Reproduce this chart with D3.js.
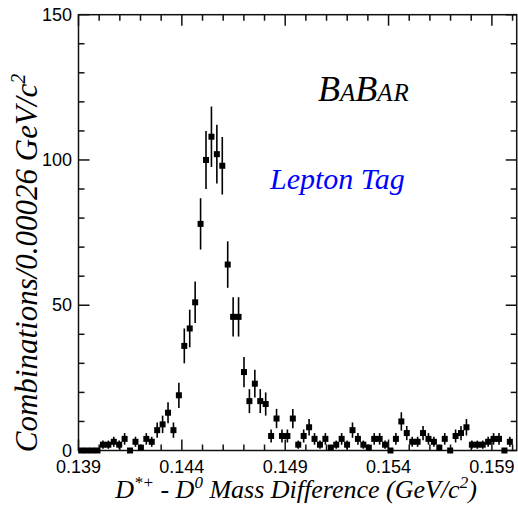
<!DOCTYPE html>
<html>
<head>
<meta charset="utf-8">
<script src="https://cdn.jsdelivr.net/npm/d3@7"></script>
<style>
  html, body { margin: 0; padding: 0; background: #fff; }
  svg { display: block; }
</style>
</head>
<body>
<div id="chart"></div>
<script>
// histogram: 80 bins from 0.139 to 0.160 GeV/c^2
const binStart = 0.139;
const binEnd = 0.160;
const counts = [
  0, 0, 0, 0, 2, 2, 3, 2, 4, 0,
  3, 1, 4, 3, 7, 9, 13, 7, 19, 36,
  42, 51, 78, 100, 108, 102, 98, 64, 46, 46,
  27, 17, 23, 17, 16, 5, 11, 5, 5, 11,
  2, 5, 8, 4, 2, 4, 1, 2, 4, 2,
  7, 4, 2, 1, 4, 4, 2, 0, 4, 10,
  6, 3, 3, 6, 4, 3, 1, 4, 0, 5,
  6, 8, 2, 2, 2, 3, 4, 4, 0, 3
];
const xTicks = [0.139, 0.144, 0.149, 0.154, 0.159];
const yTicks = [0, 50, 100, 150];

const W = 518, H = 510;
const mLeft = 78.5, mRight = 516.7, mTop = 14.7, mBottom = 450.5;

const svg = d3.select('#chart').append('svg')
  .attr('width', W).attr('height', H);

const x = d3.scaleLinear().domain([0.139, 0.1602]).range([mLeft, mRight]);
const y = d3.scaleLinear().domain([0, 150]).range([mBottom, mTop]);

const binW = (binEnd - binStart) / counts.length;
const bins = counts.map((c, i) => ({ x: binStart + binW * (i + 0.5), n: c }));

// frame ticks (minor + major) on all four sides
const minorX = d3.range(0.139, 0.1602, 0.001);
const minorY = d3.range(0, 151, 10);
const isMajorX = (v) => xTicks.some((t) => Math.abs(t - v) < 1e-6);
const isMajorY = (v) => v % 50 === 0;

const axisG = svg.append('g').attr('stroke', '#111').attr('stroke-width', 1.5);

axisG.append('rect')
  .attr('x', mLeft).attr('y', mTop)
  .attr('width', mRight - mLeft).attr('height', mBottom - mTop)
  .attr('fill', 'none');

minorX.forEach((v) => {
  const len = isMajorX(v) ? 11 : 6;
  axisG.append('line')
    .attr('x1', x(v)).attr('x2', x(v))
    .attr('y1', mBottom).attr('y2', mBottom - len);
  axisG.append('line')
    .attr('x1', x(v)).attr('x2', x(v))
    .attr('y1', mTop).attr('y2', mTop + len);
});

minorY.forEach((v) => {
  const len = isMajorY(v) ? 11 : 6;
  axisG.append('line')
    .attr('x1', mLeft).attr('x2', mLeft + len)
    .attr('y1', y(v)).attr('y2', y(v));
  axisG.append('line')
    .attr('x1', mRight).attr('x2', mRight - len)
    .attr('y1', y(v)).attr('y2', y(v));
});

// tick labels
svg.append('g').selectAll('text')
  .data(xTicks)
  .join('text')
  .attr('x', (d) => x(d))
  .attr('y', 473)
  .attr('text-anchor', 'middle')
  .attr('font-family', 'Liberation Sans, Arial, sans-serif')
  .attr('font-size', 18)
  .text((d) => d3.format('.3f')(d));

svg.append('g').selectAll('text')
  .data(yTicks)
  .join('text')
  .attr('x', 72)
  .attr('y', (d) => y(d) + 6)
  .attr('text-anchor', 'end')
  .attr('font-family', 'Liberation Sans, Arial, sans-serif')
  .attr('font-size', 18)
  .text((d) => d);

// data: error bars (Poisson) + square markers
const data = svg.append('g');
data.selectAll('line')
  .data(bins.filter((d) => d.n > 0))
  .join('line')
  .attr('x1', (d) => x(d.x)).attr('x2', (d) => x(d.x))
  .attr('y1', (d) => y(d.n - Math.sqrt(d.n)))
  .attr('y2', (d) => y(d.n + Math.sqrt(d.n)))
  .attr('stroke', '#000')
  .attr('stroke-width', 1.6);

data.selectAll('rect')
  .data(bins)
  .join('rect')
  .attr('x', (d) => x(d.x) - 3)
  .attr('y', (d) => y(d.n) - 3)
  .attr('width', 6).attr('height', 6)
  .attr('fill', '#000');

// axis titles
const serif = 'Liberation Serif, Times New Roman, serif';

const xt = svg.append('text')
  .attr('x', 296).attr('y', 498)
  .attr('text-anchor', 'middle')
  .attr('font-family', serif)
  .attr('font-style', 'italic')
  .attr('font-size', 26);
xt.append('tspan').text('D');
xt.append('tspan').attr('dy', -10).attr('font-size', 17).text('*+');
xt.append('tspan').attr('dy', 10).text(' - D');
xt.append('tspan').attr('dy', -10).attr('font-size', 17).text('0');
xt.append('tspan').attr('dy', 10).text(' Mass Difference (GeV/c');
xt.append('tspan').attr('dy', -10).attr('font-size', 17).text('2');
xt.append('tspan').attr('dy', 10).text(')');

const yt = svg.append('text')
  .attr('transform', 'translate(37,263) rotate(-90)')
  .attr('text-anchor', 'middle')
  .attr('font-family', serif)
  .attr('font-style', 'italic')
  .attr('font-size', 31);
yt.append('tspan').text('Combinations/0.00026 GeV/c');
yt.append('tspan').attr('dy', -12).attr('font-size', 20).text('2');

// BaBar logo
const logo = svg.append('text')
  .attr('x', 318).attr('y', 101)
  .attr('font-family', serif)
  .attr('font-style', 'italic');
logo.append('tspan').attr('font-size', 36).text('B');
logo.append('tspan').attr('font-size', 25).attr('dx', 0).text('A');
logo.append('tspan').attr('font-size', 36).attr('dx', 0).text('B');
logo.append('tspan').attr('font-size', 25).attr('dx', 0).text('A');
logo.append('tspan').attr('font-size', 25).attr('dx', 1).text('R');

svg.append('text')
  .attr('x', 270).attr('y', 189)
  .attr('font-family', serif)
  .attr('font-style', 'italic')
  .attr('font-size', 30)
  .attr('fill', '#0000ff')
  .text('Lepton Tag');
</script>
</body>
</html>
